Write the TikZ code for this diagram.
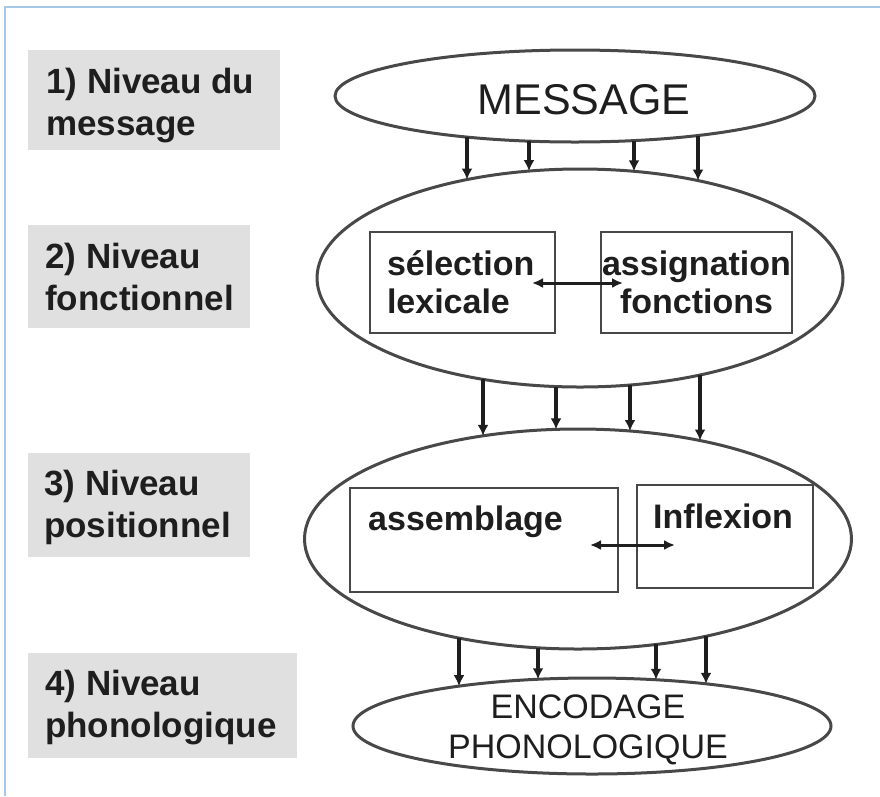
\documentclass[tikz,border=0pt]{standalone}
\usepackage{fontspec}
\setmainfont{Liberation Sans}
\usetikzlibrary{arrows.meta,calc,shapes.geometric}

\definecolor{ink}{HTML}{1E1E1E}
\definecolor{outline}{HTML}{484848}
\definecolor{labelgray}{HTML}{E0E0E0}
\definecolor{frameblue}{HTML}{A7C7E7}

\tikzset{
  tier/.style={ellipse, draw=outline, line width=3pt, inner sep=0pt, outer sep=0pt, fill=white},
  lvlbox/.style={rectangle, fill=labelgray, anchor=north west, inner sep=0pt},
  lvltext/.style={anchor=base west, inner sep=0pt, align=left,
    font=\fontsize{35}{42}\selectfont\bfseries, text=ink},
  stagebox/.style={rectangle, draw=outline, line width=2.7pt, inner sep=0pt, outer sep=0pt,
    font=\fontsize{34}{38}\selectfont\bfseries, text=ink},
  stagetext/.style={font=\fontsize{34}{38}\selectfont\bfseries, text=ink, inner sep=0pt},
  flowarrow/.style={draw=ink, line width=3.2pt, -{Latex[length=11pt,width=11pt]}},
  biarrow/.style={draw=ink, line width=3pt,
    {Latex[length=11pt,width=10pt]}-{Latex[length=11pt,width=10pt]}},
}

% vertical arrow at x = #3 (px) from the lower border of ellipse #1
% to the upper border of ellipse #2
\newcommand{\flowlink}[3]{%
  \draw[flowarrow] let \p1=(#1.center), \p2=(#1.east), \p3=(#1.south),
      \p4=(#2.center), \p5=(#2.east), \p6=(#2.north),
      \n1={(#3pt-\x1)/(\x2-\x1)}, \n2={(#3pt-\x4)/(\x5-\x4)},
      \n3={\y1-(\y1-\y3)*sqrt(1-\n1*\n1)},
      \n4={\y4+(\y6-\y4)*sqrt(1-\n2*\n2)}
    in (#3pt,\n3) -- (#3pt,\n4);}

\begin{document}
\begin{tikzpicture}[x=1pt,y=-1pt]
  \useasboundingbox (0,0) rectangle (880,796);
  \fill[white] (0,0) rectangle (880,796);
  \draw[frameblue, line width=1.5pt] (5,796) -- (5,7) -- (880,7);

  % level labels (text anchored on the baseline of the second line)
  \node[lvlbox, minimum width=252, minimum height=100] (lab1) at (28,50) {};
  \node[lvlbox, minimum width=222, minimum height=103] (lab2) at (28,225) {};
  \node[lvlbox, minimum width=222, minimum height=104] (lab3) at (28,453) {};
  \node[lvlbox, minimum width=269, minimum height=105] (lab4) at (28,653) {};
  \node[lvltext] (lab1txt) at (46,135) {1) Niveau du\\message};
  \node[lvltext] (lab2txt) at (45,310) {2) Niveau\\fonctionnel};
  \node[lvltext] (lab3txt) at (44,537) {3) Niveau\\positionnel};
  \node[lvltext] (lab4txt) at (45,737) {4) Niveau\\phonologique};

  % processing levels
  \node[tier, minimum width=480, minimum height=92] (msg) at (575,96) {};
  \node[tier, minimum width=526, minimum height=218] (fun) at (580,278) {};
  \node[tier, minimum width=547, minimum height=220] (pos) at (578,539) {};
  \node[tier, minimum width=478, minimum height=96] (pho) at (592,726) {};

  \node[font=\fontsize{43}{48}\selectfont, text=ink] (msgtxt) at (584,100) {MESSAGE};
  \node[font=\fontsize{34}{40}\selectfont, text=ink, align=center] (photxt) at (588,730)
    {ENCODAGE\\PHONOLOGIQUE};

  % functional level
  \node[stagebox, minimum width=185, minimum height=101, inner xsep=17pt, text width=151,
    align=left] (sel) at (462.5,282.5) {sélection\\lexicale};
  \node[stagebox, minimum width=191, minimum height=101, align=center] (asg) at (696.5,282.5)
    {assignation\\fonctions};
  \coordinate (selR) at (532,283);
  \coordinate (asgL) at (623,283);
  \draw[biarrow] (selR) -- (asgL);

  % positional level
  \node[stagebox, minimum width=268, minimum height=104] (asm) at (484,540) {};
  \node[stagebox, minimum width=176, minimum height=103] (infl) at (725,536.5) {};
  \node[stagetext, anchor=base west] (asmtxt) at (368,530) {assemblage};
  \node[stagetext, anchor=base west] (infltxt) at (653,528) {Inflexion};
  \coordinate (asmR) at (590,545);
  \coordinate (inflL) at (675,545);
  \draw[biarrow] (asmR) -- (inflL);

  % flows between levels
  \foreach \px in {467,529,634,698} { \flowlink{msg}{fun}{\px} }
  \foreach \px in {483,556,630,700} { \flowlink{fun}{pos}{\px} }
  \foreach \px in {459,538,656,706} { \flowlink{pos}{pho}{\px} }
\end{tikzpicture}
\end{document}
